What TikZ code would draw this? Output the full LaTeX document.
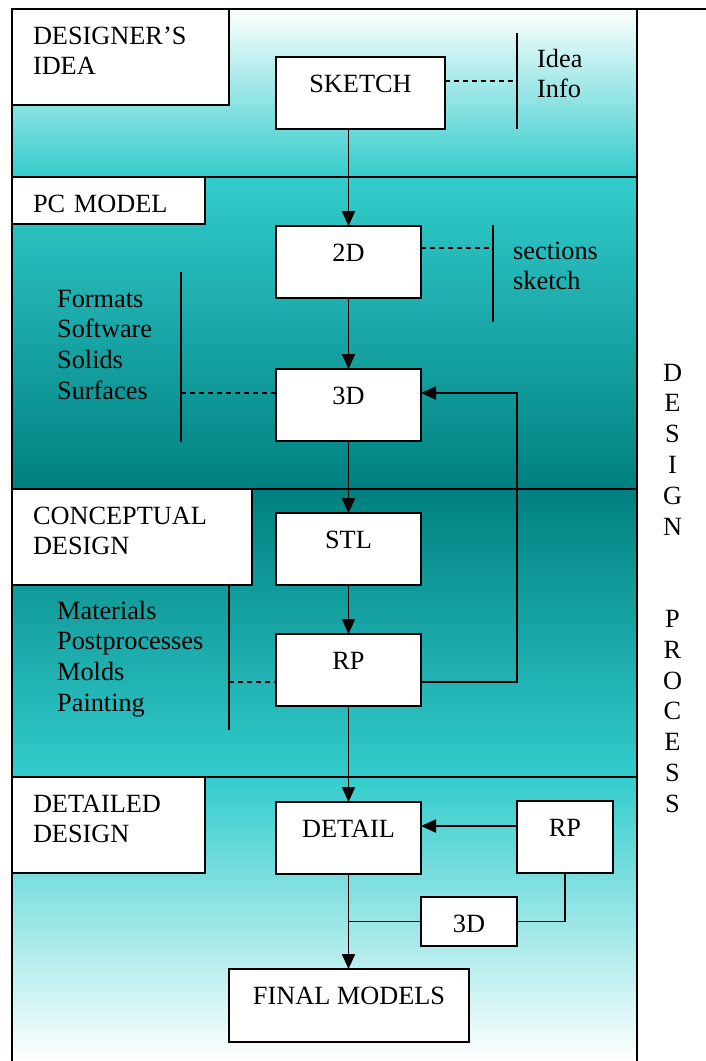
\documentclass[tikz,border=0pt]{standalone}
\usepackage{fontspec}
\setmainfont{Liberation Serif}
\usetikzlibrary{arrows.meta}
\definecolor{tealL}{RGB}{51,204,204}
\definecolor{tealD}{RGB}{0,128,128}
\begin{document}
\begin{tikzpicture}[x=1pt,y=-1pt,
  font=\fontsize{26.3}{30.8}\selectfont,
  frame/.style={line width=2.2pt},
  link/.style={line width=1.9pt},
  arr/.style={link,-{Triangle[length=15pt,width=13pt]}},
  tielink/.style={link,dash pattern=on 5pt off 4pt},
  procbox/.style={draw,fill=white,line width=2pt,inner sep=0pt,outer sep=0pt,
    anchor=north west,text height=35.5pt},
  stagebox/.style={draw,fill=white,line width=2pt,inner ysep=0pt,inner xsep=21pt,
    outer sep=0pt,anchor=north west,text height=35pt,align=left},
  list/.style={anchor=base west,inner sep=0pt,align=left,text width=#1}
]
\useasboundingbox (0,0) rectangle (706,1061);

% graded bands of the four stages
\shade[top color=white, bottom color=tealL] (12,9) rectangle (637,177);
\shade[top color=tealL, bottom color=tealD] (12,177) rectangle (637,489);
\shade[top color=tealD, bottom color=tealL] (12,489) rectangle (637,777);
\shade[top color=tealL, bottom color=white] (12,777) rectangle (637,1061);

% table frame
\draw[frame] (12,1061) -- (12,9) -- (706,9);
\draw[frame] (637,9) -- (637,1061);
\draw[frame] (12,177) -- (637,177);
\draw[frame] (12,489) -- (637,489);
\draw[frame] (12,777) -- (637,777);

% bracket lines and tie points
\coordinate (ideaTop) at (517,33);  \coordinate (ideaBot) at (517,129); \coordinate (ideaTie) at (517,81);
\coordinate (secTop) at (493,225);  \coordinate (secBot) at (493,322);  \coordinate (secTie) at (493,248);
\coordinate (fmtTop) at (181,272);  \coordinate (fmtBot) at (181,442);  \coordinate (fmtTie) at (181,393);
\coordinate (matTop) at (229,585);  \coordinate (matBot) at (229,730);  \coordinate (matTie) at (229,682);
\coordinate (fbLow) at (517,682);   \coordinate (fbHigh) at (517,393);
\coordinate (detTie) at (421,826);

\draw[link] (ideaTop) -- (ideaBot);
\draw[link] (secTop) -- (secBot);
\draw[link] (fmtTop) -- (fmtBot);
\draw[link] (matTop) -- (matBot);

% stage labels
\node[stagebox,text width=175pt,text depth=61pt] (idea) at (12,9) {DESIGNER’S\\IDEA};
\node[stagebox,text width=151pt,text depth=12pt] (pcm) at (12,177) {PC MODEL};
\node[stagebox,text width=198pt,text depth=61pt] (concept) at (12,489) {CONCEPTUAL\\DESIGN};
\node[stagebox,text width=151pt,text depth=61pt] (detailed) at (12,777) {DETAILED\\DESIGN};

% process boxes
\node[procbox,minimum width=169pt,text depth=36.5pt] (sketch) at (276,57) {SKETCH};
\node[procbox,minimum width=145pt,text depth=36pt] (twod) at (276,226) {2D};
\node[procbox,minimum width=145pt,text depth=36.5pt] (threed) at (276,369) {3D};
\node[procbox,minimum width=145pt,text depth=36.5pt] (stl) at (276,513) {STL};
\node[procbox,minimum width=145pt,text depth=36pt] (rp) at (276,634) {RP};
\node[procbox,minimum width=145pt,text depth=36pt] (detail) at (276,802) {DETAIL};
\node[procbox,minimum width=96pt,text depth=36.5pt] (rpb) at (517,801) {RP};
\node[procbox,minimum width=96pt,text depth=13.5pt] (threedb) at (421,897) {3D};
\node[procbox,minimum width=240pt,text depth=37.5pt] (final) at (229,969) {FINAL MODELS};

% main flow
\draw[arr] (sketch.south -| twod.north) -- (twod.north);
\draw[arr] (twod.south) -- (threed.north);
\draw[arr] (threed.south) -- (stl.north);
\draw[arr] (stl.south) -- (rp.north);
\draw[arr] (rp.south) -- (detail.north);
\draw[arr] (detail.south) -- (detail.south |- final.north);

% feedback from RP to 3D
\draw[arr] (rp.east |- fbLow) -- (fbLow) -- (fbHigh) -- (threed.east |- fbHigh);

% detail loop
\draw[arr] (rpb.west |- detTie) -- (detail.east |- detTie);
\draw[link] (rpb.south) |- (threedb.east);
\draw[link] (threedb.west) -- (threedb.west -| detail.south);

% dashed ties to the option lists
\draw[tielink] (sketch.east |- ideaTie) -- (ideaTie);
\draw[tielink] (twod.east |- secTie) -- (secTie);
\draw[tielink] (fmtTie) -- (threed.west |- fmtTie);
\draw[tielink] (matTie) -- (rp.west |- matTie);

% option lists
\node[list=60pt] (ideainfo) at (537,67) {Idea\\Info};
\node[list=120pt] (secsk) at (513,259) {sections\\sketch};
\node[list=120pt] (pcopts) at (57,307) {Formats\\Software\\Solids\\Surfaces};
\node[list=170pt] (rpopts) at (57,619) {Materials\\Postprocesses\\Molds\\Painting};

% vertical title
\node[anchor=base,inner sep=0pt,align=center,text width=30pt] (dp) at (672.5,381)
  {D\\E\\S\\I\\G\\N\\[61.6pt]P\\R\\O\\C\\E\\S\\S};
\end{tikzpicture}
\end{document}
